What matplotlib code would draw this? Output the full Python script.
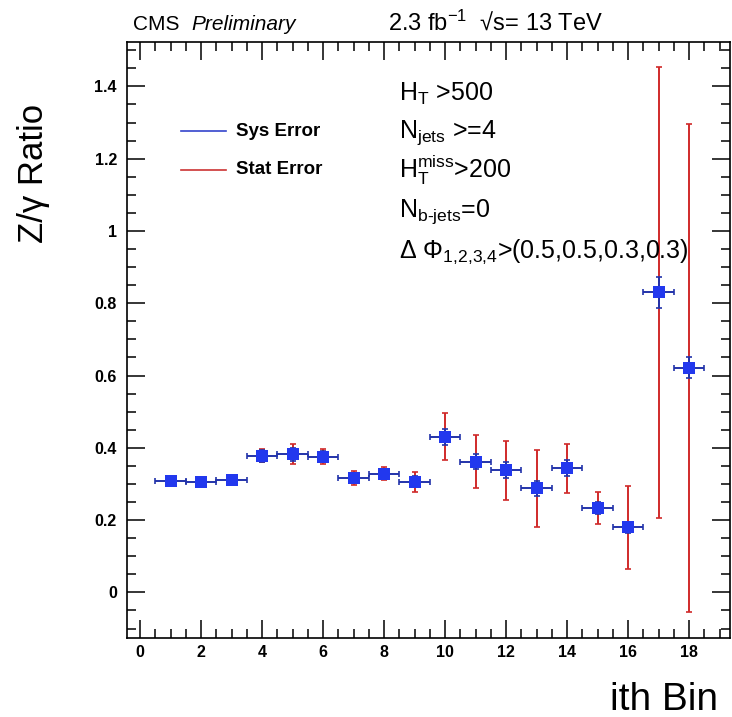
import matplotlib
matplotlib.use('Agg')
import matplotlib.pyplot as plt
from matplotlib.lines import Line2D
from matplotlib.ticker import MultipleLocator

plt.rcParams['font.family'] = ['Liberation Sans', 'DejaVu Sans']
plt.rcParams['mathtext.fontset'] = 'custom'
plt.rcParams['mathtext.rm'] = 'Liberation Sans'
plt.rcParams['mathtext.it'] = 'Liberation Sans:italic'
plt.rcParams['mathtext.bf'] = 'Liberation Sans:bold'

# --- Datos ---
bins = [1, 2, 3, 4, 5, 6, 7, 8, 9, 10, 11, 12, 13, 14, 15, 16, 17, 18]
ratio = [0.309, 0.306, 0.311, 0.378, 0.382, 0.376, 0.316, 0.328, 0.306,
         0.431, 0.362, 0.338, 0.288, 0.343, 0.234, 0.180, 0.830, 0.622]
stat_err = [0.012, 0.010, 0.012, 0.018, 0.028, 0.022, 0.020, 0.018, 0.028,
            0.065, 0.073, 0.082, 0.107, 0.068, 0.045, 0.115, 0.625, 0.675]
sys_err = [0.012, 0.010, 0.011, 0.016, 0.018, 0.016, 0.014, 0.014, 0.015,
           0.022, 0.020, 0.022, 0.020, 0.022, 0.016, 0.015, 0.042, 0.030]
bin_half = [0.5] * len(bins)

W, H = 732, 717


def px(x, y):
    return x / W, 1 - y / H


fig = plt.figure(figsize=(W / 100, H / 100), dpi=100)
ax = fig.add_axes([126.7 / W, 1 - 638.3 / H, (730.5 - 126.7) / W, (638.3 - 42.3) / H])

red = '#d02a2a'
blue = '#2233aa'
mblue = '#2238ee'

# Error estadistico (rojo)
ax.errorbar(bins, ratio, yerr=stat_err, fmt='none', ecolor=red, elinewidth=1.4,
            capsize=2.5, capthick=1.2, zorder=2)
# Error sistematico (azul) con ancho del bin
ax.errorbar(bins, ratio, xerr=bin_half, yerr=sys_err, fmt='none', ecolor=blue,
            elinewidth=1.4, capsize=2.5, capthick=1.2, zorder=3)
ax.plot(bins, ratio, 's', color=mblue, markersize=8.5, markeredgewidth=0, zorder=4)

ax.set_xlim(-0.44, 19.36)
ax.set_ylim(-0.127, 1.522)
ax.xaxis.set_major_locator(MultipleLocator(2))
ax.xaxis.set_minor_locator(MultipleLocator(0.5))
ax.yaxis.set_minor_locator(MultipleLocator(0.05))
ax.set_yticks([0, 0.2, 0.4, 0.6, 0.8, 1.0, 1.2, 1.4])
ax.set_yticklabels(['0', '0.2', '0.4', '0.6', '0.8', '1', '1.2', '1.4'])
ax.tick_params(which='both', direction='in', top=True, right=True, width=1.1)
ax.tick_params(which='major', length=13, labelsize=11.5)
ax.tick_params(axis='x', which='major', pad=5)
ax.tick_params(axis='y', which='major', pad=7)
ax.tick_params(which='minor', length=6.5)
for lab in ax.get_xticklabels() + ax.get_yticklabels():
    lab.set_fontweight('bold')
for s in ax.spines.values():
    s.set_linewidth(1.2)

# Titulos de ejes
fig.text(*px(33, 104), 'Z/\u03b3 Ratio', rotation=90, ha='center', va='top', fontsize=25)
fig.text(*px(718, 710), 'ith Bin', ha='right', va='baseline', fontsize=28)

# Encabezado
fig.text(*px(133, 30), 'CMS', ha='left', va='baseline', fontsize=15)
fig.text(*px(191, 30), 'Preliminary', ha='left', va='baseline', fontsize=15, style='italic')
fig.text(*px(388, 30), '2.3 fb$^{-1}$  \u221as= 13 TeV', ha='left', va='baseline', fontsize=17)

# Cortes
cuts = [
    (101, r'H$_{\mathrm{T}}$ >500'),
    (138, r'N$_{\mathrm{jets}}$ >=4'),
    (178, r'H$_{\mathrm{T}}^{\mathrm{miss}}$>200'),
    (217, r'N$_{\mathrm{b\text{-}jets}}$=0'),
    (258, '\u0394 \u03a6$_{1{,}2{,}3{,}4}$>(0.5,0.5,0.3,0.3)'),
]
for y, t in cuts:
    fig.text(*px(399, y), t, ha='left', va='baseline', fontsize=18)

# Leyenda
for y, c, t in [(131, '#3344cc', 'Sys Error'), (170, '#cc3333', 'Stat Error')]:
    x0, y0 = px(181, y)
    x1, _ = px(226, y)
    fig.add_artist(Line2D([x0, x1], [y0, y0], color=c, linewidth=1.2, transform=fig.transFigure))
    fig.text(*px(236, y), t, ha='left', va='center', fontsize=13.5, fontweight='bold')

fig.savefig('out.png', dpi=100)
